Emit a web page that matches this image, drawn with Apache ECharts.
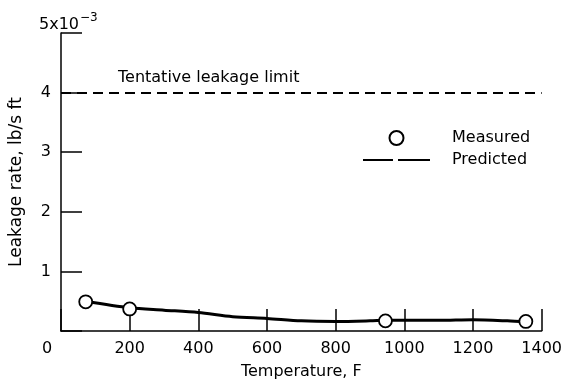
<!DOCTYPE html>
<html>
<head>
<meta charset="utf-8">
<script src="https://cdn.jsdelivr.net/npm/echarts@6/dist/echarts.min.js"></script>
<style>
html, body { margin: 0; padding: 0; background: #fff; }
#main { width: 565px; height: 390px; }
</style>
</head>
<body>
<div id="main"></div>
<script>
// temperature (F) vs leakage rate (x10^-3 lb/s ft)
var measured = [[72, 0.49], [200, 0.37], [945, 0.17], [1354, 0.16]];
var predicted = [[72, 0.50], [200, 0.39], [300, 0.35], [400, 0.31], [500, 0.24], [600, 0.21],
	[700, 0.17], [800, 0.16], [900, 0.17], [950, 0.18], [1000, 0.18], [1100, 0.18],
	[1200, 0.19], [1300, 0.17], [1354, 0.15]];
var limitValue = 4;
var limitText = 'Tentative leakage limit';

var font = 'DejaVu Sans';

var myChart = echarts.init(document.getElementById('main'));

var option = {
	backgroundColor: '#fff',
	animation: false,
	title: {
		left: 34,
		top: 4,
		text: '{a|5x10}{b|\u22123}',
		textStyle: {
			fontWeight: 'normal',
			rich: {
				a: { fontFamily: font, fontSize: 16, fontWeight: 'normal', color: '#000', padding: [8, 0, 0, 0] },
				b: { fontFamily: font, fontSize: 12, fontWeight: 'normal', color: '#000', padding: [0, 0, 6, 1] }
			}
		}
	},
	legend: {
		orient: 'vertical',
		left: 358,
		top: 125,
		itemWidth: 67,
		itemHeight: 14,
		itemGap: 6,
		textStyle: {
			fontFamily: font,
			fontSize: 16,
			color: '#000',
			padding: [0, 0, 0, 17]
		},
		data: [
			{ name: 'Measured', icon: 'circle' },
			{
				name: 'Predicted',
				icon: 'path://M0,0L30,0L30,2L0,2Z M35,0L67,0L67,2L35,2Z',
				itemStyle: { color: '#000', borderWidth: 0 }
			}
		]
	},
	grid: {
		left: 61,
		right: 21,
		top: 33,
		bottom: 59
	},
	xAxis: {
		type: 'value',
		min: 0,
		max: 1400,
		interval: 200,
		name: 'Temperature, F',
		nameLocation: 'middle',
		nameGap: 33,
		nameTextStyle: { fontFamily: font, fontSize: 16, color: '#000' },
		splitLine: { show: false },
		axisLine: { lineStyle: { color: '#000', width: 1.5 } },
		axisTick: { inside: true, length: 22, lineStyle: { color: '#000', width: 1.5 } },
		axisLabel: {
			margin: 10,
			fontFamily: font,
			fontSize: 16,
			color: '#000',
			formatter: function(v) {
				return v === 0 ? '{z|0}' : String(v);
			},
			rich: {
				z: { fontFamily: font, fontSize: 16, color: '#000', padding: [0, 28, 0, 0] }
			}
		}
	},
	yAxis: {
		type: 'value',
		min: 0,
		max: 5,
		interval: 1,
		name: 'Leakage rate, lb/s ft',
		nameLocation: 'middle',
		nameGap: 36,
		nameTextStyle: { fontFamily: font, fontSize: 17, color: '#000' },
		splitLine: { show: false },
		axisLine: { lineStyle: { color: '#000', width: 1.5 } },
		axisTick: { inside: true, length: 21, lineStyle: { color: '#000', width: 1.5 } },
		axisLabel: {
			margin: 10,
			fontFamily: font,
			fontSize: 16,
			color: '#000',
			formatter: function(v) {
				return (v === 0 || v === 5) ? '' : String(v);
			}
		}
	},
	series: [{
		name: 'Predicted',
		type: 'line',
		data: predicted,
		smooth: 0.3,
		symbol: 'none',
		lineStyle: { color: '#000', width: 3 },
		z: 2,
		markLine: {
			silent: true,
			symbol: 'none',
			lineStyle: { color: '#000', type: [10, 6], width: 2 },
			label: {
				show: true,
				position: 'insideStartTop',
				distance: 7,
				padding: [0, 0, 0, 50],
				formatter: limitText,
				fontFamily: font,
				fontSize: 16,
				color: '#000'
			},
			data: [{ yAxis: limitValue }]
		}
	}, {
		name: 'Measured',
		type: 'scatter',
		data: measured,
		symbol: 'circle',
		symbolSize: 13,
		itemStyle: { color: '#fff', borderColor: '#000', borderWidth: 1.8, opacity: 1 },
		z: 3
	}]
};
myChart.setOption(option);
</script>
</body>
</html>
